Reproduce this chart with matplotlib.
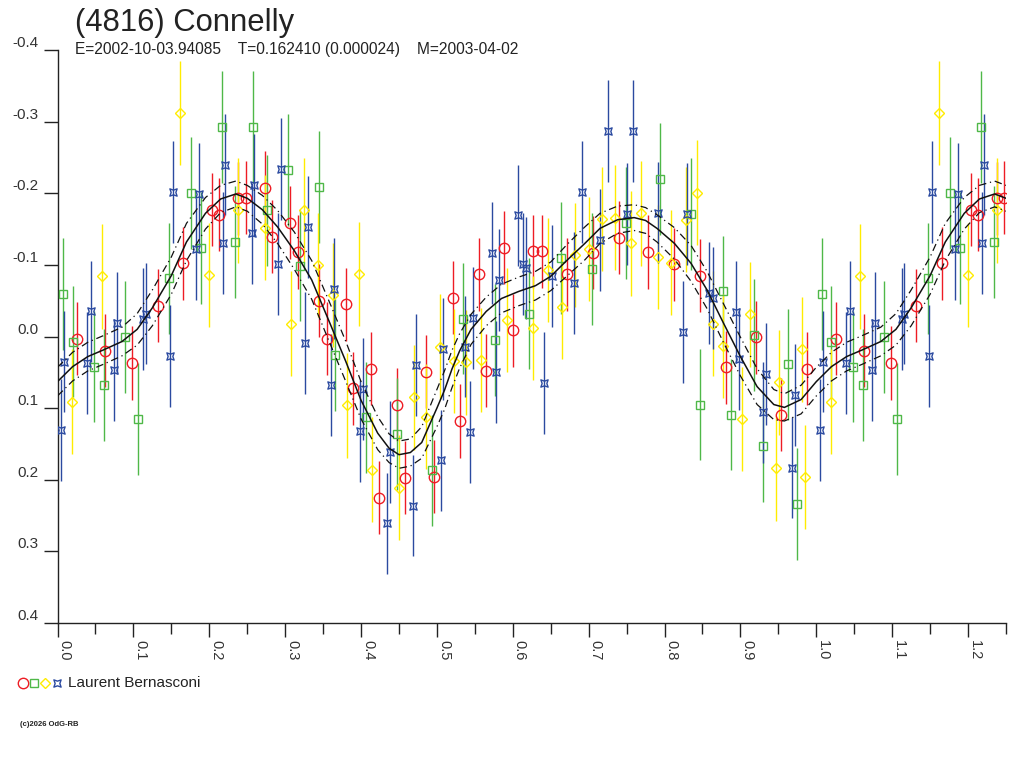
import numpy as np
import matplotlib
matplotlib.use("Agg")
import matplotlib.pyplot as plt
from matplotlib.path import Path
from matplotlib.lines import Line2D

plt.rcParams['font.family'] = ['Liberation Sans', 'DejaVu Sans']

# ---------------- data (phase 0..1, relative magnitude) ----------------
red_phase = [0.026, 0.063, 0.098, 0.132, 0.166, 0.204, 0.213, 0.238, 0.248, 0.273,
             0.283, 0.307, 0.317, 0.345, 0.355, 0.380, 0.389, 0.413, 0.424, 0.448,
             0.458, 0.486, 0.496, 0.521, 0.531, 0.555, 0.565, 0.589, 0.600, 0.627,
             0.638, 0.672, 0.706, 0.740, 0.778, 0.812, 0.847, 0.881, 0.920, 0.954, 0.988]
red_mag = [0.003, 0.020, 0.037, -0.043, -0.102, -0.177, -0.170, -0.193, -0.194, -0.208,
           -0.139, -0.159, -0.118, -0.050, 0.003, -0.045, 0.072, 0.045, 0.225, 0.095,
           0.197, 0.049, 0.196, -0.054, 0.118, -0.087, 0.048, -0.124, -0.009, -0.119,
           -0.119, -0.087, -0.117, -0.138, -0.118, -0.101, -0.085, 0.043, 0.001, 0.109, 0.045]
red_err = 0.051

green_phase = [0.007, 0.020, 0.048, 0.061, 0.089, 0.106, 0.147, 0.176, 0.189, 0.217,
               0.234, 0.257, 0.276, 0.304, 0.320, 0.344, 0.366, 0.407, 0.448, 0.493,
               0.535, 0.577, 0.622, 0.663, 0.705, 0.749, 0.794, 0.835, 0.847, 0.877,
               0.888, 0.918, 0.930, 0.963, 0.975]
green_mag = [-0.059, 0.007, 0.042, 0.068, 0.001, 0.115, -0.081, -0.200, -0.124, -0.292,
             -0.132, -0.292, -0.176, -0.232, -0.099, -0.209, 0.026, 0.113, 0.136, 0.187,
             -0.025, 0.005, -0.032, -0.110, -0.094, -0.158, -0.220, -0.171, 0.095, -0.063,
             0.109, -0.002, 0.153, 0.039, 0.234]
green_err = 0.078

yellow_phase = [0.019, 0.058, 0.162, 0.200, 0.238, 0.273, 0.308, 0.325, 0.343, 0.363,
                0.381, 0.397, 0.415, 0.450, 0.470, 0.485, 0.504, 0.523, 0.539, 0.558,
                0.592, 0.627, 0.647, 0.665, 0.682, 0.700, 0.717, 0.735, 0.756, 0.769,
                0.791, 0.808, 0.828, 0.843, 0.864, 0.877, 0.902, 0.912, 0.947, 0.951,
                0.981, 0.985]
yellow_mag = [0.091, -0.084, -0.312, -0.086, -0.176, -0.152, -0.018, -0.176, -0.100, -0.058,
              0.096, -0.087, 0.186, 0.211, 0.085, 0.112, 0.014, 0.034, 0.036, 0.033,
              -0.023, -0.012, -0.093, -0.041, -0.114, -0.122, -0.164, -0.166, -0.130, -0.172,
              -0.111, -0.103, -0.163, -0.201, -0.018, 0.013, 0.115, -0.031, 0.184, 0.064,
              0.018, 0.196]
yellow_err = 0.073

blue_phase = [0.005, 0.009, 0.039, 0.044, 0.074, 0.078, 0.113, 0.116, 0.148, 0.152,
              0.183, 0.187, 0.218, 0.221, 0.256, 0.259, 0.291, 0.295, 0.326, 0.330,
              0.361, 0.365, 0.399, 0.403, 0.434, 0.438, 0.469, 0.473, 0.505, 0.508,
              0.537, 0.543, 0.548, 0.572, 0.578, 0.582, 0.607, 0.613, 0.617, 0.641,
              0.652, 0.681, 0.691, 0.715, 0.726, 0.750, 0.759, 0.791, 0.824, 0.829,
              0.859, 0.864, 0.894, 0.898, 0.930, 0.934, 0.968, 0.972]
blue_mag = [0.131, 0.035, 0.037, -0.035, 0.047, -0.019, -0.024, -0.032, 0.027, -0.202,
            -0.122, -0.199, -0.131, -0.240, -0.144, -0.212, -0.101, -0.234, 0.009, -0.153,
            0.068, -0.067, 0.132, 0.073, 0.261, 0.161, 0.236, 0.040, 0.173, 0.017,
            0.014, 0.133, -0.026, -0.117, 0.050, -0.079, -0.169, -0.101, -0.096, 0.065,
            -0.084, -0.075, -0.202, -0.135, -0.287, -0.171, -0.287, -0.173, -0.006, -0.171,
            -0.061, -0.054, -0.034, 0.031, 0.106, 0.052, 0.183, 0.082]
blue_err = 0.071

# fitted light curve (phase, mag) and envelope half-width
fit_phase = [0.000, 0.020, 0.040, 0.060, 0.085, 0.105, 0.125, 0.150, 0.170, 0.195,
             0.215, 0.235, 0.250, 0.270, 0.290, 0.312, 0.335, 0.360, 0.380, 0.400,
             0.422, 0.437, 0.450, 0.465, 0.480, 0.500, 0.510, 0.520, 0.530, 0.545,
             0.565, 0.585, 0.608, 0.630, 0.650, 0.672, 0.695, 0.715, 0.738, 0.760,
             0.775, 0.790, 0.813, 0.835, 0.856, 0.878, 0.900, 0.922, 0.944, 0.958,
             0.980, 1.000]
fit_mag = [0.063, 0.042, 0.028, 0.019, 0.007, -0.010, -0.040, -0.085, -0.132, -0.172,
           -0.192, -0.199, -0.193, -0.177, -0.153, -0.120, -0.079, -0.016, 0.035, 0.089,
           0.135, 0.156, 0.165, 0.162, 0.148, 0.100, 0.075, 0.045, 0.020, -0.010,
           -0.035, -0.053, -0.063, -0.071, -0.084, -0.107, -0.130, -0.151, -0.163, -0.166,
           -0.162, -0.151, -0.130, -0.102, -0.065, -0.018, 0.028, 0.070, 0.095, 0.099,
           0.088, 0.063]
fit_env = [0.020, 0.020, 0.020, 0.020, 0.020, 0.022, 0.025, 0.026, 0.026, 0.022,
           0.019, 0.018, 0.018, 0.020, 0.023, 0.026, 0.027, 0.028, 0.028, 0.026,
           0.023, 0.020, 0.019, 0.019, 0.022, 0.026, 0.027, 0.026, 0.024, 0.021,
           0.020, 0.020, 0.020, 0.020, 0.020, 0.022, 0.023, 0.021, 0.019, 0.018,
           0.018, 0.019, 0.022, 0.025, 0.026, 0.027, 0.027, 0.025, 0.021, 0.019,
           0.020, 0.020]

x_ticks = [0.0, 0.1, 0.2, 0.3, 0.4, 0.5, 0.6, 0.7, 0.8, 0.9, 1.0, 1.1, 1.2]
y_ticks = [-0.4, -0.3, -0.2, -0.1, 0.0, 0.1, 0.2, 0.3, 0.4]
x_max = 1.248

title = "(4816) Connelly"
subtitle = "E=2002-10-03.94085    T=0.162410 (0.000024)    M=2003-04-02"
observer = "Laurent Bernasconi"
credit = "(c)2026 OdG-RB"

# ---------------- styles ----------------
C_RED = "#ee1c24"
C_GREEN = "#4fb848"
C_YELLOW = "#ffec00"
C_BLUE = "#2b4aa0"

star_verts = [(-1, -1), (0, -0.65), (1, -1), (0.65, 0), (1, 1), (0, 0.65), (-1, 1), (-0.65, 0), (-1, -1)]
star_codes = [Path.MOVETO] + [Path.LINETO] * 7 + [Path.CLOSEPOLY]
STAR = Path(star_verts, star_codes)


def extend(ph, mg):
    ph = np.asarray(ph, float)
    mg = np.asarray(mg, float)
    p2 = ph + 1.0
    keep = p2 <= x_max + 0.002
    return np.concatenate([ph, p2[keep]]), np.concatenate([mg, mg[keep]])


fig = plt.figure(figsize=(10.24, 7.68), dpi=100)
ax = fig.add_axes([57.5 / 1024, 1 - 623 / 768, (1006 - 57.5) / 1024, 573 / 768])

series = [
    (red_phase, red_mag, red_err, C_RED, 'o', 7.5, 1.0),
    (green_phase, green_mag, green_err, C_GREEN, 's', 5.6, 1.0),
    (yellow_phase, yellow_mag, yellow_err, C_YELLOW, 'D', 5.2, 1.0),
    (blue_phase, blue_mag, blue_err, C_BLUE, STAR, 5.2, 1.0),
]

for ph, mg, err, col, mk, ms, mew in series:
    p, m = extend(ph, mg)
    ax.vlines(p, m - err, m + err, colors=col, linewidth=1.0, zorder=2)
for ph, mg, err, col, mk, ms, mew in series:
    p, m = extend(ph, mg)
    ax.plot(p, m, linestyle='none', marker=mk, markersize=ms, markerfacecolor='none',
            markeredgecolor=col, markeredgewidth=mew, zorder=3)

fp, fm = extend(fit_phase[:-1], fit_mag[:-1])
_, fe = extend(fit_phase[:-1], fit_env[:-1])
order = np.argsort(fp)
fp, fm, fe = fp[order], fm[order], fe[order]
ax.plot(fp, fm, color='#111111', linewidth=1.1, zorder=4)
ax.plot(fp, fm - fe, color='#111111', linewidth=0.9, dashes=(6, 3, 1, 3), zorder=4)
ax.plot(fp, fm + fe, color='#111111', linewidth=0.9, dashes=(6, 3, 1, 3), zorder=4)

ax.set_xlim(0, x_max)
ax.set_ylim(0.4, -0.4)

for s in ['top', 'right']:
    ax.spines[s].set_visible(False)
for s in ['left', 'bottom']:
    ax.spines[s].set_color('#222222')
    ax.spines[s].set_linewidth(1.0)

ax.set_xticks(x_ticks)
ax.set_xticklabels([f"{v:.1f}" for v in x_ticks], rotation=270, ha='left', va='top',
                   fontsize=10.5, color='#333333')
ax.set_xticks([v + 0.05 for v in x_ticks], minor=True)
ax.tick_params(axis='x', which='major', direction='out', length=10, width=1.0,
               color='#222222', pad=2)
ax.tick_params(axis='x', which='minor', direction='out', length=8, width=1.0,
               color='#222222')

ax.set_yticks(y_ticks)
ax.set_yticklabels([f"{v:.1f}" if v >= 0 else f"-{abs(v):.1f}" for v in y_ticks],
                   fontsize=11, color='#333333', va='bottom')
ax.tick_params(axis='y', direction='out', length=10, width=1.0, color='#222222', pad=4)

fig.text(75 / 1024, 1 - 31 / 768, title, fontsize=22.3, color='#222222', va='baseline')
fig.text(75 / 1024, 1 - 54 / 768, subtitle, fontsize=11.2, color='#222222', va='baseline')

ly = 1 - 683 / 768
for xp, col, mk, ms, mew in [(22.5, C_RED, 'o', 7.5, 1.0), (34, C_GREEN, 's', 5.6, 1.0),
                             (45, C_YELLOW, 'D', 5.2, 1.0), (57, C_BLUE, STAR, 5.2, 1.0)]:
    fig.add_artist(Line2D([xp / 1024], [ly], transform=fig.transFigure, linestyle='none',
                          marker=mk, markersize=ms, markerfacecolor='none',
                          markeredgecolor=col, markeredgewidth=mew))
fig.text(68 / 1024, ly, observer, fontsize=11, color='#222222', va='center')
fig.text(20 / 1024, 1 - 724 / 768, credit, fontsize=5.5, color='#222222', va='center',
         fontweight='bold')

fig.savefig("out.png", dpi=100)
